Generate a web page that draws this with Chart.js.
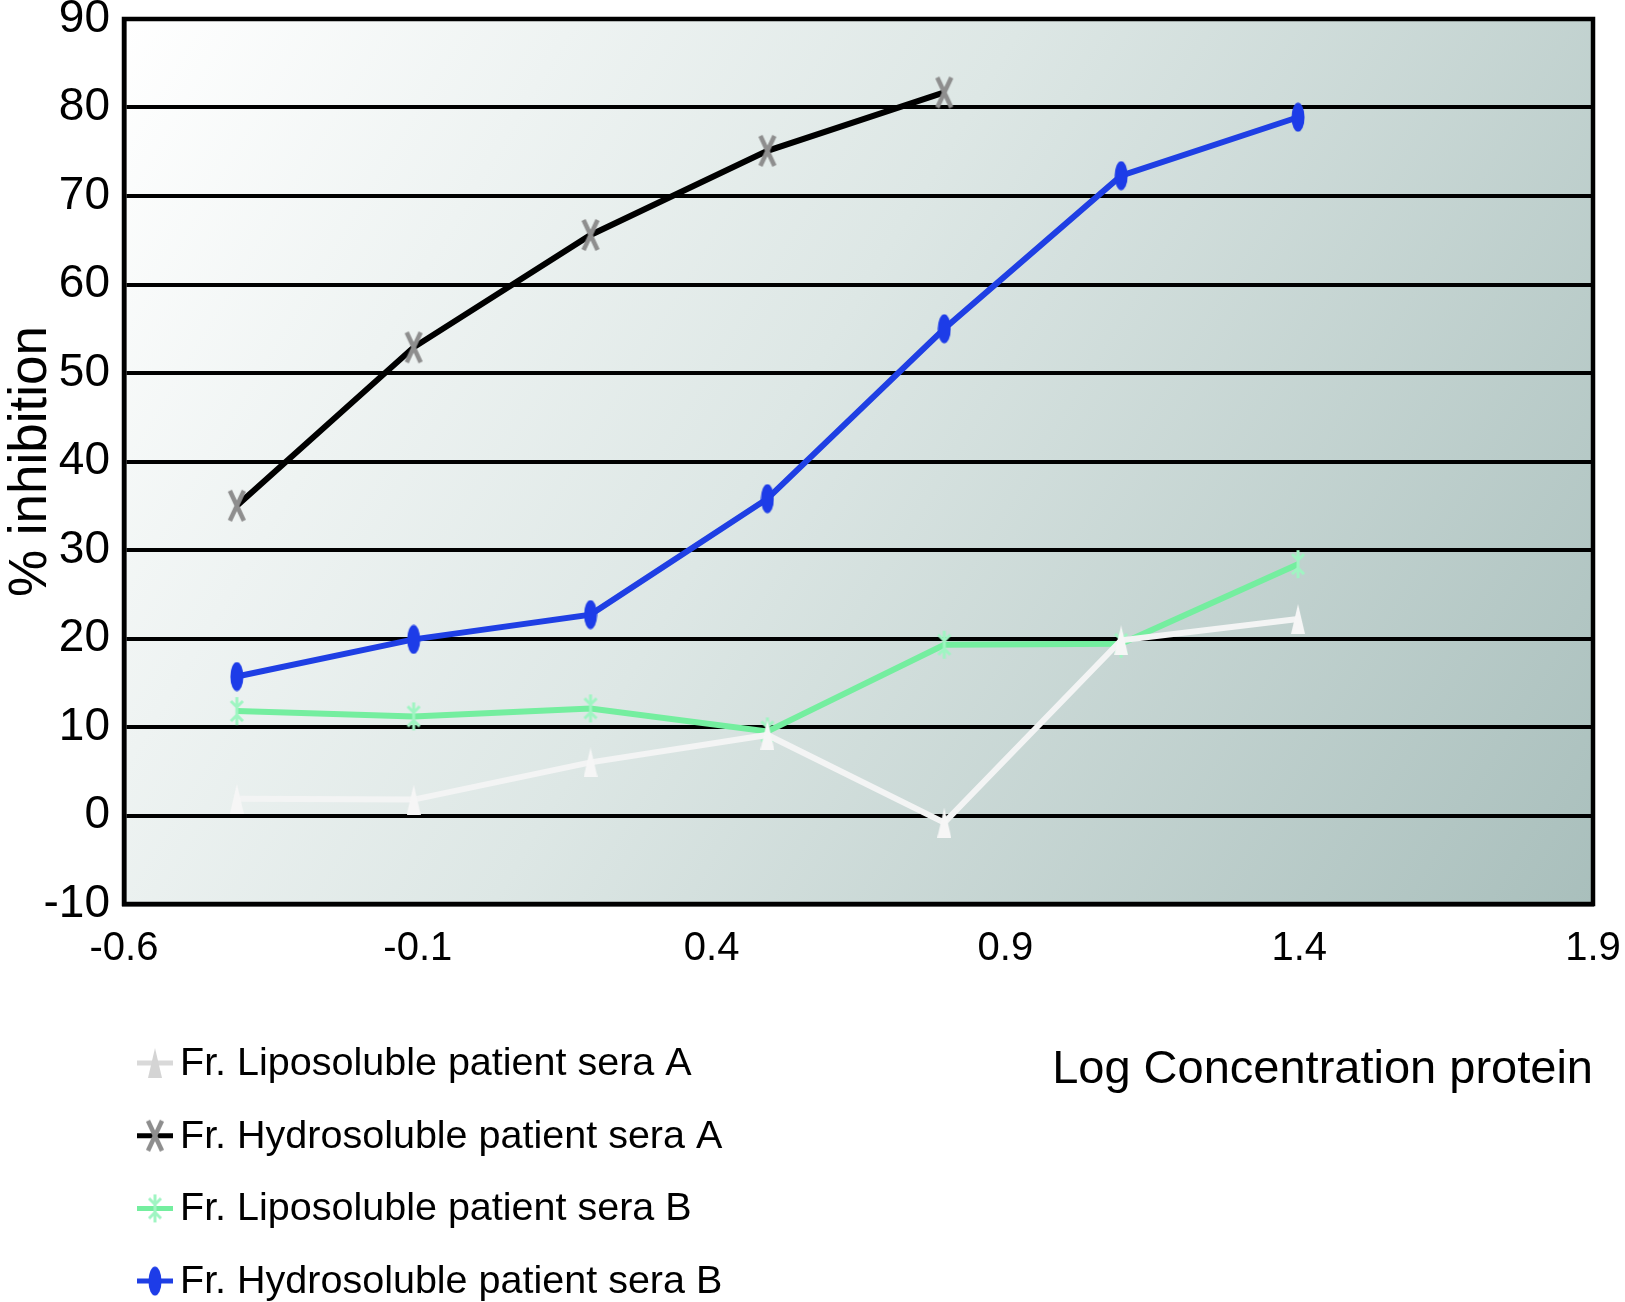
<!DOCTYPE html>
<html>
<head>
<meta charset="utf-8">
<script src="https://cdn.jsdelivr.net/npm/chart.js@4.4.1/dist/chart.umd.min.js"></script>
<style>
  html, body { margin: 0; padding: 0; background: #fff; }
  canvas { display: block; }
</style>
</head>
<body>
<canvas id="chart" width="1625" height="1302"></canvas>
<script>
// log10 of protein concentration (x) and % inhibition per serie
const logConc = [-0.408, -0.107, 0.194, 0.495, 0.796, 1.097, 1.398];
const lipoA = [1.9, 1.8, 6.0, 9.1, -0.8, 19.8, 22.2];
const hydroA = [35.0, 52.9, 65.6, 75.1, 81.7];
const lipoB = [11.8, 11.2, 12.1, 9.5, 19.3, 19.4, 28.4];
const hydroB = [15.7, 19.9, 22.7, 35.8, 55.0, 72.3, 78.9];

const seriesNames = [
  'Fr. Liposoluble patient sera A',
  'Fr. Hydrosoluble patient sera A',
  'Fr. Liposoluble patient sera B',
  'Fr. Hydrosoluble patient sera B'
];
const xTicks = [-0.6, -0.1, 0.4, 0.9, 1.4, 1.9];
const xTickLabels = ['-0.6', '-0.1', '0.4', '0.9', '1.4', '1.9'];

const FONT = '"Liberation Sans", Arial, Helvetica, sans-serif';

function marker(w, h, paint) {
  const c = document.createElement('canvas');
  c.width = w; c.height = h;
  const g = c.getContext('2d');
  paint(g, w, h);
  return c;
}

const spike = color => marker(14, 30, (g, w, h) => {
  g.fillStyle = color;
  g.beginPath();
  g.moveTo(w / 2, 0); g.lineTo(w, h); g.lineTo(0, h);
  g.closePath(); g.fill();
});
const crossX = color => marker(20, 34, (g, w, h) => {
  g.strokeStyle = color; g.lineWidth = 4.5;
  g.beginPath();
  g.moveTo(3, 2); g.lineTo(w - 3, h - 2);
  g.moveTo(w - 3, 2); g.lineTo(3, h - 2);
  g.stroke();
});
const aster = color => marker(16, 30, (g, w, h) => {
  g.strokeStyle = color; g.lineWidth = 3;
  g.beginPath();
  g.moveTo(w / 2, 1); g.lineTo(w / 2, h - 1);
  g.moveTo(2, 5); g.lineTo(w / 2, 11); g.lineTo(w - 2, 5);
  g.moveTo(2, h - 5); g.lineTo(w / 2, h - 11); g.lineTo(w - 2, h - 5);
  g.stroke();
});
const ellipse = color => marker(14, 30, (g, w, h) => {
  g.fillStyle = color;
  g.beginPath();
  g.ellipse(w / 2, h / 2, w / 2 - 0.5, h / 2 - 0.5, 0, 0, Math.PI * 2);
  g.fill();
});

const pts = ys => ys.map((y, i) => ({ x: logConc[i], y }));

const datasets = [
  { label: seriesNames[0], data: pts(lipoA), borderColor: '#f3f4f4',
    pointStyle: spike('#f6f6f6'), legendLine: '#d9d9d9', legendPoint: spike('#d4d4d4') },
  { label: seriesNames[1], data: pts(hydroA), borderColor: '#000000',
    pointStyle: crossX('#8e8e8e') },
  { label: seriesNames[2], data: pts(lipoB), borderColor: '#74ee9f',
    pointStyle: aster('#9ff5c2') },
  { label: seriesNames[3], data: pts(hydroB), borderColor: '#1f3fe4',
    pointStyle: ellipse('#1d3ce8') }
].map(d => ({ ...d, borderWidth: 6, pointRadius: 10, tension: 0, fill: false }));

const plotBackground = {
  id: 'plotBackground',
  beforeDraw(chart) {
    const { ctx, chartArea: a } = chart;
    const grad = ctx.createLinearGradient(a.left, a.top, a.right, a.bottom);
    grad.addColorStop(0, '#ffffff');
    grad.addColorStop(0.45, '#dde7e5');
    grad.addColorStop(1, '#a9bfbc');
    ctx.save();
    ctx.fillStyle = grad;
    ctx.fillRect(a.left, a.top, a.right - a.left, a.bottom - a.top);
    ctx.restore();
  }
};

const plotFrame = {
  id: 'plotFrame',
  afterDatasetsDraw(chart) {
    const { ctx, chartArea: a } = chart;
    ctx.save();
    ctx.strokeStyle = '#000';
    ctx.lineWidth = 4.5;
    ctx.strokeRect(a.left, a.top, a.right - a.left, a.bottom - a.top);
    ctx.restore();
  }
};

const stackedLegend = {
  id: 'stackedLegend',
  afterDraw(chart) {
    const { ctx } = chart;
    const firstRow = 1063, rowGap = 72.7;
    ctx.save();
    ctx.font = '39.5px ' + FONT;
    ctx.textBaseline = 'middle';
    ctx.fillStyle = '#000';
    chart.data.datasets.forEach((ds, i) => {
      const y = firstRow + i * rowGap;
      ctx.strokeStyle = ds.legendLine || ds.borderColor;
      ctx.lineWidth = 5;
      ctx.beginPath();
      ctx.moveTo(137, y); ctx.lineTo(173, y);
      ctx.stroke();
      const img = ds.legendPoint || ds.pointStyle;
      ctx.drawImage(img, 155 - img.width / 2, y - img.height / 2);
      ctx.fillText(ds.label, 180, y + 1);
    });
    ctx.restore();
  }
};

new Chart(document.getElementById('chart'), {
  type: 'line',
  data: { datasets },
  plugins: [plotBackground, plotFrame, stackedLegend],
  options: {
    responsive: false,
    animation: false,
    devicePixelRatio: 1,
    layout: { padding: { top: 19, right: 32, left: 0, bottom: 0 } },
    plugins: { legend: { display: false }, tooltip: { enabled: false } },
    scales: {
      x: {
        type: 'linear',
        min: -0.6,
        max: 1.9,
        afterFit: s => {
          s.height = 398;
          s.paddingLeft = 0;
          s.paddingRight = 0;
        },
        afterBuildTicks: s => { s.ticks = xTicks.map(v => ({ value: v })); },
        grid: { display: false, drawTicks: false },
        border: { display: true, color: '#000', width: 4.5 },
        ticks: {
          color: '#000',
          padding: 21,
          maxRotation: 0,
          font: { family: FONT, size: 40 },
          callback: (v, i) => xTickLabels[i]
        },
        title: {
          display: true,
          text: 'Log Concentration protein',
          align: 'end',
          color: '#000',
          font: { family: FONT, size: 47 },
          padding: { top: 0, bottom: 204 }
        }
      },
      y: {
        min: -10,
        max: 90,
        afterFit: s => {
          s.width = 124;
          s.paddingTop = 0;
          s.paddingBottom = 0;
        },
        grid: { color: '#000', lineWidth: 4, drawTicks: false },
        border: { display: true, color: '#000', width: 4.5 },
        ticks: {
          stepSize: 10,
          color: '#000',
          padding: 14,
          font: { family: FONT, size: 46 }
        },
        title: {
          display: true,
          text: '% inhibition',
          color: '#000',
          font: { family: FONT, size: 53 },
          padding: { top: 0, bottom: 0 }
        }
      }
    }
  }
});
</script>
</body>
</html>
